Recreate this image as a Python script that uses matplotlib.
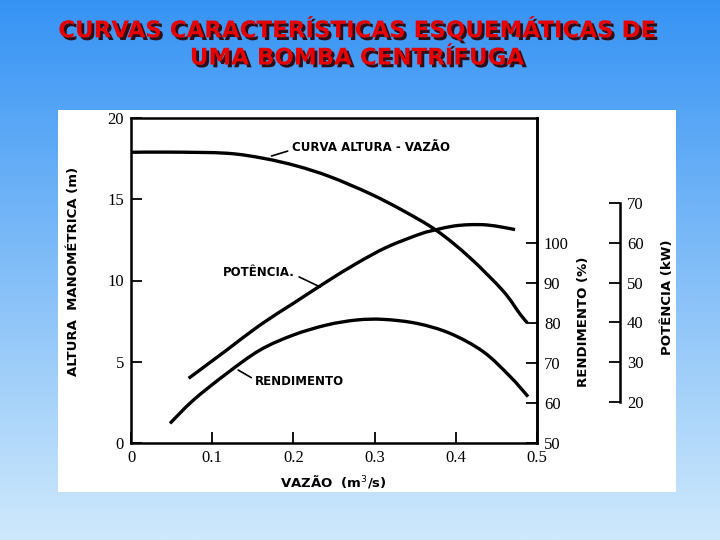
import numpy as np
import matplotlib
matplotlib.use("Agg")
import matplotlib.pyplot as plt
import matplotlib.patheffects as pe
from matplotlib.patches import Rectangle, PathPatch
from matplotlib.path import Path

# Data
# curva altura - vazao (m)
q_altura = [0.0, 0.05, 0.118, 0.163, 0.204, 0.245, 0.294, 0.335, 0.377, 0.417, 0.458, 0.479, 0.488]
altura = [17.89, 17.9, 17.83, 17.52, 17.05, 16.39, 15.35, 14.3, 13.05, 11.42, 9.37, 7.94, 7.4]

# potencia (kW)
q_pot = [0.071, 0.118, 0.159, 0.200, 0.241, 0.278, 0.315, 0.356, 0.376, 0.397, 0.417, 0.438, 0.458, 0.473]
potencia = [25.95, 33.07, 39.35, 44.80, 50.23, 54.85, 58.9, 62.2, 63.3, 64.2, 64.55, 64.49, 63.90, 63.32]

# rendimento (%)
q_rend = [0.048, 0.077, 0.118, 0.159, 0.200, 0.241, 0.278, 0.311, 0.352, 0.393, 0.434, 0.467, 0.489]
rendimento = [54.9, 60.75, 67.4, 73.25, 77.0, 79.5, 80.75, 80.9, 79.9, 77.4, 72.8, 66.6, 61.6]

x_ticks = [0, 0.1, 0.2, 0.3, 0.4, 0.5]
x_labels = ["0", "0.1", "0.2", "0.3", "0.4", "0.5"]
h_ticks = [0, 5, 10, 15, 20]
rend_ticks = [50, 60, 70, 80, 90, 100]
pot_ticks = [20, 30, 40, 50, 60, 70]

W, H = 720, 540
fig = plt.figure(figsize=(7.2, 5.4), dpi=100)


def fx(px):
    return px / W


def fy(py):
    return 1 - py / H


def smooth_curve(ax, xs, ys, lw=2.4):
    # draw the read points joined by Catmull-Rom bezier segments
    p = np.column_stack([xs, ys]).astype(float)
    ext = np.vstack([p[0], p, p[-1]])
    verts = [p[0]]
    codes = [Path.MOVETO]
    for i in range(1, len(ext) - 2):
        c1 = ext[i] + (ext[i + 1] - ext[i - 1]) / 6
        c2 = ext[i + 1] - (ext[i + 2] - ext[i]) / 6
        verts += [c1, c2, ext[i + 1]]
        codes += [Path.CURVE4] * 3
    ax.add_patch(PathPatch(Path(verts, codes), facecolor="none", edgecolor="black",
                           lw=lw, capstyle="butt", joinstyle="round"))


# background gradient
bg = fig.add_axes([0, 0, 1, 1], zorder=-10)
top = np.array([0x36, 0x93, 0xf4]) / 255
bot = np.array([0xcf, 0xe9, 0xfc]) / 255
t = np.linspace(0, 1, 256)[:, None, None]
grad = (top * (1 - t) + bot * t) * np.ones((1, 2, 3))
bg.imshow(grad, aspect="auto", extent=[0, 1, 0, 1])
bg.set_axis_off()

# white panel
fig.patches.append(Rectangle((fx(58), fy(492)), fx(676 - 58), (492 - 110) / H,
                             transform=fig.transFigure, facecolor="white",
                             edgecolor="none", zorder=-5))

# title
title_kw = dict(ha="center", va="center", color="#e60000", fontsize=16.5,
                fontweight="bold", family="DejaVu Sans",
                path_effects=[pe.withSimplePatchShadow(offset=(2, -2), shadow_rgbFace="#2a0000", alpha=0.9)])
fig.text(fx(357), fy(30), "CURVAS CARACTERÍSTICAS ESQUEMÁTICAS DE", **title_kw)
fig.text(fx(357), fy(58), "UMA BOMBA CENTRÍFUGA", **title_kw)

serif = "Liberation Serif"

# main axes
ax = fig.add_axes([fx(131), fy(443), fx(406), 325 / H])
ax.set_facecolor("none")
ax.set_xlim(0, 0.5)
ax.set_ylim(0, 20)
for s in ax.spines.values():
    s.set_linewidth(1.8)
ax.set_xticks(x_ticks)
ax.set_xticklabels(x_labels, family=serif, fontsize=12)
ax.set_yticks(h_ticks)
ax.set_yticklabels([str(v) for v in h_ticks], family=serif, fontsize=12)
ax.tick_params(direction="in", length=8, width=1.3, pad=5, right=False, top=False)
smooth_curve(ax, q_altura, altura)

# rendimento axis
ax2 = ax.twinx()
ax2.set_ylim(50, 131.25)
for k in ("left", "top", "bottom"):
    ax2.spines[k].set_visible(False)
ax2.spines["right"].set_linewidth(1.8)
ax2.set_yticks(rend_ticks)
ax2.set_yticklabels([str(v) for v in rend_ticks], family=serif, fontsize=12)
ax2.tick_params(direction="in", length=8, width=1.3, pad=5)
smooth_curve(ax2, q_rend, rendimento)

# potencia axis
ax3 = ax.twinx()
ax3.set_ylim(9.70, 91.36)
for k in ("left", "top", "bottom"):
    ax3.spines[k].set_visible(False)
ax3.spines["right"].set_position(("axes", (620 - 131) / 406))
ax3.spines["right"].set_bounds(20, 70)
ax3.spines["right"].set_linewidth(1.8)
ax3.set_yticks(pot_ticks)
ax3.set_yticklabels([str(v) for v in pot_ticks], family=serif, fontsize=12)
ax3.tick_params(direction="in", length=8, width=1.3, pad=5)
smooth_curve(ax3, q_pot, potencia)

# axis titles
lab_kw = dict(ha="center", va="center", fontsize=9.5, fontweight="bold", family="DejaVu Sans")
fig.text(fx(73), fy(271), "ALTURA  MANOMÉTRICA (m)", rotation=90, **lab_kw)
fig.text(fx(333), fy(481), "VAZÃO  (m$^3$/s)", **lab_kw)
fig.text(fx(583), fy(322), "RENDIMENTO (%)", rotation=90, **lab_kw)
fig.text(fx(668), fy(297), "POTÊNCIA (kW)", rotation=90, **lab_kw)

# curve labels with leader lines
def leader(relpos):
    return dict(arrowstyle="-", lw=1.2, color="black", shrinkA=1, shrinkB=0, relpos=relpos)


ann_kw = dict(fontsize=8.5, fontweight="bold", family="DejaVu Sans")
ax.annotate("CURVA ALTURA - VAZÃO", xy=(0.173, 17.66), xytext=(0.198, 18.2),
            ha="left", va="center", arrowprops=leader((0, 0.3)), **ann_kw)
ax.annotate("POTÊNCIA.", xy=(0.233, 9.6), xytext=(0.202, 10.5),
            ha="right", va="center", arrowprops=leader((1, 0.3)), **ann_kw)
ax.annotate("RENDIMENTO", xy=(0.132, 4.49), xytext=(0.153, 3.8),
            ha="left", va="center", arrowprops=leader((0, 0.6)), **ann_kw)

fig.savefig("out.png", dpi=100)
